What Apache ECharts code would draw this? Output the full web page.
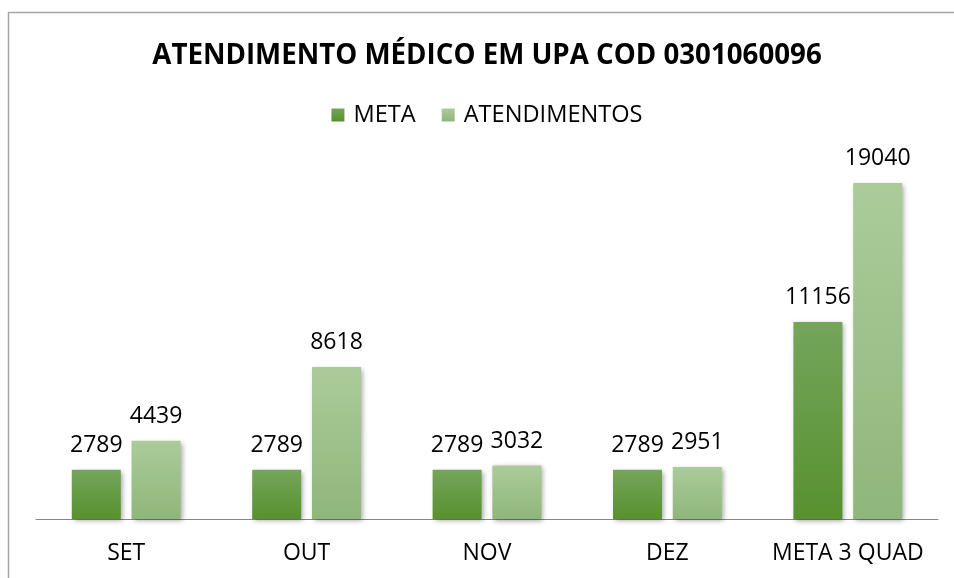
<!DOCTYPE html>
<html>
<head>
<meta charset="utf-8">
<script src="https://cdn.jsdelivr.net/npm/echarts@6/dist/echarts.min.js"></script>
<style>
html,body{margin:0;padding:0;background:#fff;overflow:hidden;}
#chart{width:974px;height:578px;}
</style>
</head>
<body>
<div id="chart"></div>
<script>
const titleText = 'ATENDIMENTO MÉDICO EM UPA COD 0301060096';
const categories = ['SET', 'OUT', 'NOV', 'DEZ', 'META 3 QUAD'];
const seriesNames = ['META', 'ATENDIMENTOS'];
const metaValues = [2789, 2789, 2789, 2789, 11156];
const atendimentosValues = [4439, 8618, 3032, 2951, 19040];

const FONT = '"Open Sans", "Noto Sans", sans-serif';
const chart = echarts.init(document.getElementById('chart'), null, {renderer: 'canvas'});

function grad(top, bottom) {
  return new echarts.graphic.LinearGradient(0, 0, 0, 1, [
    {offset: 0, color: top}, {offset: 1, color: bottom}
  ]);
}
const shadow = {shadowColor: 'rgba(0,0,0,0.35)', shadowBlur: 5, shadowOffsetX: 2, shadowOffsetY: 2};
const labelCfg = {show: true, position: 'top', distance: 13, color: '#000', fontFamily: FONT, fontSize: 23};

chart.setOption({
  animation: false,
  backgroundColor: '#fff',
  graphic: [{
    type: 'rect', left: 6, top: 10, z: -10,
    shape: {width: 1000, height: 620},
    style: {fill: 'none', stroke: '#a6a6a6', lineWidth: 1.5}
  }],
  title: {
    text: titleText, left: 'center', top: 37,
    textStyle: {fontFamily: FONT, fontWeight: 'bold', fontSize: 27.7, color: '#000'}
  },
  legend: {
    data: seriesNames, left: 'center', top: 98,
    icon: 'rect', itemWidth: 13, itemHeight: 13, itemGap: 26,
    textStyle: {fontFamily: FONT, fontSize: 23.6, color: '#000', padding: [0, 0, 0, 4]}
  },
  grid: {left: 36, right: 36, top: 166, bottom: 59},
  xAxis: {
    type: 'category', data: categories,
    axisLine: {lineStyle: {color: '#868686', width: 1}},
    axisTick: {show: false},
    axisLabel: {interval: 0, fontFamily: FONT, fontSize: 23, color: '#000', margin: 23}
  },
  yAxis: {
    type: 'value', min: 0, max: 20000, show: false,
    splitLine: {show: false}
  },
  series: [{
    name: seriesNames[0], type: 'bar', data: metaValues,
    barWidth: 49, barGap: '22%',
    itemStyle: Object.assign({color: grad('#74a55b', '#57912f')}, shadow),
    label: labelCfg
  }, {
    name: seriesNames[1], type: 'bar', data: atendimentosValues,
    barWidth: 49, barGap: '22%',
    itemStyle: Object.assign({color: grad('#abcc9a', '#8fb67b')}, shadow),
    label: labelCfg
  }]
});
</script>
</body>
</html>
